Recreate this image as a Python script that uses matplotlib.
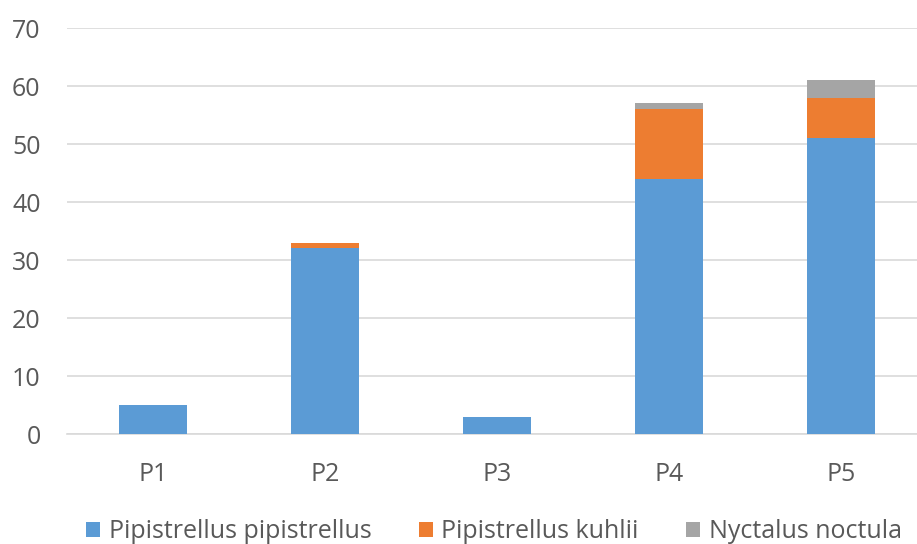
import matplotlib.pyplot as plt
import numpy as np

plt.rcParams['font.family'] = ['Open Sans', 'DejaVu Sans']

sites = ['P1', 'P2', 'P3', 'P4', 'P5']
pipistrellus = [5, 32, 3, 44, 51]
kuhlii = [0, 1, 0, 12, 7]
noctula = [0, 0, 0, 1, 3]

series = [('Pipistrellus pipistrellus', pipistrellus, '#5b9bd5'),
          ('Pipistrellus kuhlii', kuhlii, '#ed7d31'),
          ('Nyctalus noctula', noctula, '#a5a5a5')]

fig = plt.figure(figsize=(9.17, 5.44), dpi=100)
ax = fig.add_axes([0.073, 0.202, 0.938, 0.7465])

x = np.arange(len(sites))
bottom = np.zeros(len(sites))
for name, vals, col in series:
    ax.bar(x, vals, 0.40, bottom=bottom, color=col, label=name, zorder=3)
    bottom += np.array(vals)

ax.set_xlim(-0.5, 4.5)
ax.set_ylim(0, 70)
ax.set_yticks(range(0, 71, 10))
ax.set_xticks(x)
ax.set_xticklabels(sites)
ax.yaxis.grid(True, color='#d9d9d9', linewidth=1.2, zorder=0)
for s in ['top', 'right', 'left']:
    ax.spines[s].set_visible(False)
ax.spines['bottom'].set_color('#d9d9d9')
ax.spines['bottom'].set_linewidth(1.2)
ax.tick_params(length=0, labelsize=18, colors='#595959')
ax.tick_params(axis='y', pad=19)
ax.tick_params(axis='x', pad=20)

fig.legend(loc='center', bbox_to_anchor=(494 / 917, 1 - 532 / 544), ncol=3, frameon=False,
           fontsize=18, labelcolor='#595959', handlelength=0.55, handleheight=0.55,
           handletextpad=0.35, columnspacing=1.9, borderpad=0)

fig.savefig('out.png', dpi=100)
